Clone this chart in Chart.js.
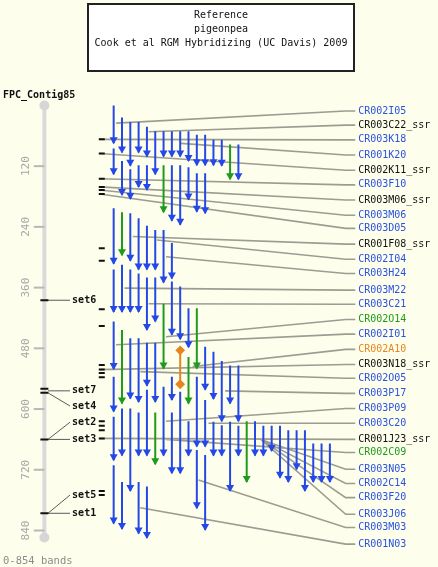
<!DOCTYPE html>
<html>
<head>
<title>FPC_Contig85 - pigeonpea</title>
<script src="https://cdn.jsdelivr.net/npm/chart.js"></script>
<style>
    html, body { margin: 0; padding: 0; background: #fefeec; }
    #wrap { width: 438px; height: 567px; }
</style>
</head>
<body>
<div id="wrap"><canvas id="map" width="438" height="567"></canvas></div>
<script>
// contig runs 0-854 bands
const bandCount = 854;
const tickValues = [120, 240, 360, 480, 600, 720, 840];

// clone labels on the right, top to bottom
const labelNames = ['CR002I05', 'CR003C22_ssr', 'CR003K18', 'CR001K20', 'CR002K11_ssr', 'CR003F10',
    'CR003M06_ssr', 'CR003M06', 'CR003D05', 'CR001F08_ssr', 'CR002I04', 'CR003H24', 'CR003M22',
    'CR003C21', 'CR002O14', 'CR002I01', 'CR002A10', 'CR003N18_ssr', 'CR002O05', 'CR003P17',
    'CR003P09', 'CR003C20', 'CR001J23_ssr', 'CR002C09', 'CR003N05', 'CR002C14', 'CR003F20',
    'CR003J06', 'CR003M03', 'CR001N03'];
const labelKinds = ['clone', 'ssr', 'clone', 'clone', 'ssr', 'clone', 'ssr', 'clone', 'clone', 'ssr',
    'clone', 'clone', 'clone', 'clone', 'green', 'clone', 'orange', 'ssr', 'clone', 'clone',
    'clone', 'clone', 'ssr', 'green', 'clone', 'clone', 'clone', 'clone', 'clone', 'clone'];
const labelBands = [11, 39, 68, 98, 128, 157, 187, 217, 243, 274, 304, 332, 365, 393, 423, 452, 482,
    512, 539, 569, 599, 628, 660, 686, 719, 747, 775, 808, 834, 867];
// where each label's line starts on the map (lane, band)
const linkLanes = [0.3, 4.2, -1.7, 8.1, -1.7, -1.7, -1.7, -1.7, -1.7, 2.3, 5.2, 6.3, 1.3, 4.2, 6.3,
    0.3, 9.5, -1.7, 3.2, 13.4, 6.3, 11.4, -1.7, 6.3, 17.7, 17.7, 17.7, 17.7, 10.2, 3.2];
const linkBands = [35, 52, 67, 75, 95, 145, 161, 167, 175, 259, 266, 299, 361, 392, 457, 473, 516,
    522, 526, 564, 624, 628, 658, 660, 660, 660, 660, 660, 740, 795];

// clone arrows: [lane, start band, end band]
const blueArrows = [
    [0, 0, 75], [1, 24, 93], [2, 33, 119], [3, 33, 93], [4, 42, 101], [5, 51, 136], [6, 51, 101],
    [7, 51, 101], [8, 51, 101], [9, 51, 110], [10, 58, 118], [11, 58, 118], [12, 68, 118],
    [13, 68, 119], [15, 77, 146],
    [0, 85, 136], [1, 110, 177], [2, 126, 185], [3, 118, 161], [4, 118, 167], [7, 118, 228],
    [8, 118, 236], [9, 122, 186], [10, 134, 210], [11, 134, 213],
    [0, 203, 313], [2, 213, 307], [3, 223, 324], [4, 238, 324], [5, 246, 324], [6, 246, 350],
    [7, 272, 342],
    [0, 324, 408], [1, 315, 408], [2, 324, 408], [3, 332, 408], [4, 340, 444], [5, 340, 427],
    [7, 348, 453], [8, 358, 462], [9, 401, 478],
    [0, 427, 521], [2, 460, 579], [3, 460, 586], [4, 469, 554], [5, 469, 586], [7, 536, 582],
    [11, 477, 562], [12, 487, 580], [13, 505, 624], [14, 514, 589], [15, 514, 624],
    [0, 536, 605], [0, 615, 701], [0, 711, 826], [1, 599, 692], [1, 744, 837], [2, 599, 762],
    [3, 607, 692], [3, 744, 846], [4, 562, 692], [4, 753, 855], [6, 556, 692], [7, 607, 727],
    [8, 566, 727], [9, 624, 692], [10, 536, 674], [10, 681, 796], [11, 582, 674], [11, 691, 839],
    [12, 625, 692], [13, 632, 692], [14, 625, 762], [15, 633, 692], [17, 624, 692], [18, 633, 692],
    [19, 633, 683], [20, 633, 736], [21, 642, 744], [22, 642, 719], [23, 642, 762], [24, 668, 744],
    [25, 668, 744], [26, 668, 744]
];
const greenArrows = [
    [14, 77, 146], [6, 118, 211], [1, 211, 296], [6, 392, 520], [10, 401, 520], [1, 444, 589],
    [9, 497, 589], [5, 607, 709], [16, 624, 744]
];
const orangeArrows = [[8, 484, 551]];

// little band dashes left of the clones
const bandMarks = [67, 95, 145, 161, 167, 175, 282, 307, 403, 436, 513, 522, 529, 537, 624, 633,
    642, 658, 762, 770];

// sets on the contig axis
const setNames = ['set6', 'set7', 'set4', 'set2', 'set3', 'set5', 'set1'];
const setLabelBands = [385, 564, 594, 626, 660, 770, 806];
const setAxisBands = [385, 564, 568, 660, 660, 806, 806];
const axisMarks = [385, 560, 568, 660, 806];

// layout, in lane units
const AXIS_LANE = -8.33;
const TICK_LANE = -9.61;
const TICK_TEXT_LANE = -10.5;
const DASH_LANE = -1.43;
const SET_FROM_LANE = -7.9;
const SET_TO_LANE = -5.25;
const SET_TEXT_LANE = -5.0;
const KNEE_LANE = 27.9;
const LINK_END_LANE = 29.05;
const LABEL_LANE = 29.4;

const BLUE = '#2448e8';
const GREEN = '#1e9a1e';
const ORANGE = '#e8841e';
const kindColor = { clone: '#2a52e0', ssr: '#111111', green: '#1e9a1e', orange: '#e8841e' };
const MONO = '"DejaVu Sans Mono", "Liberation Mono", monospace';

function arrowPoints(list) {
    const pts = [];
    list.forEach(([lane, a, b]) => {
        pts.push({ x: lane, y: a });
        pts.push({ x: lane, y: b, head: true });
        pts.push({ x: lane, y: null });
    });
    return pts;
}

const linkPoints = [];
labelBands.forEach((b, i) => {
    linkPoints.push({ x: linkLanes[i], y: linkBands[i] });
    linkPoints.push({ x: KNEE_LANE, y: b });
    linkPoints.push({ x: LINK_END_LANE, y: b });
    linkPoints.push({ x: LINK_END_LANE, y: null });
});

const setPoints = [];
setNames.forEach((s, i) => {
    setPoints.push({ x: SET_FROM_LANE, y: setAxisBands[i] });
    setPoints.push({ x: SET_TO_LANE, y: setLabelBands[i] });
    setPoints.push({ x: SET_TO_LANE, y: null });
});

// arrow heads drawn with the tip on the end point
const arrowHeads = {
    id: 'arrowHeads',
    afterDatasetsDraw(chart) {
        const ctx = chart.ctx;
        chart.data.datasets.forEach((ds, i) => {
            if (!ds.heads) return;
            const meta = chart.getDatasetMeta(i);
            ctx.save();
            ctx.fillStyle = ds.borderColor;
            meta.data.forEach((pt, j) => {
                if (!ds.data[j].head) return;
                ctx.beginPath();
                ctx.moveTo(pt.x, pt.y + 1);
                ctx.lineTo(pt.x - 4, pt.y - 6);
                ctx.lineTo(pt.x + 4, pt.y - 6);
                ctx.closePath();
                ctx.fill();
            });
            ctx.restore();
        });
    }
};

const mapDecor = {
    id: 'mapDecor',
    beforeDatasetsDraw(chart) {
        const { ctx, scales: { x, y } } = chart;
        const ax = x.getPixelForValue(AXIS_LANE);
        const top = y.getPixelForValue(0);
        const bottom = y.getPixelForValue(bandCount);
        ctx.save();
        ctx.strokeStyle = '#dadada';
        ctx.lineWidth = 4;
        ctx.beginPath();
        ctx.moveTo(ax, top);
        ctx.lineTo(ax, bottom);
        ctx.stroke();
        ctx.fillStyle = '#d6d6d6';
        [top, bottom].forEach(py => {
            ctx.beginPath();
            ctx.arc(ax, py, 5, 0, Math.PI * 2);
            ctx.fill();
        });
        ctx.strokeStyle = '#b8b8b8';
        ctx.lineWidth = 2;
        ctx.fillStyle = '#a8a8a8';
        ctx.font = '11px ' + MONO;
        ctx.textAlign = 'center';
        ctx.textBaseline = 'middle';
        tickValues.forEach(v => {
            const py = y.getPixelForValue(v);
            ctx.beginPath();
            ctx.moveTo(x.getPixelForValue(TICK_LANE), py);
            ctx.lineTo(ax, py);
            ctx.stroke();
            ctx.save();
            ctx.translate(x.getPixelForValue(TICK_TEXT_LANE), py);
            ctx.rotate(-Math.PI / 2);
            ctx.fillText(String(v), 0, 0);
            ctx.restore();
        });
        ctx.restore();
    },
    afterDraw(chart) {
        const { ctx, scales: { x, y } } = chart;
        ctx.save();
        ctx.textBaseline = 'middle';
        // clone names
        ctx.font = '10px ' + MONO;
        ctx.textAlign = 'left';
        const lx = x.getPixelForValue(LABEL_LANE);
        labelNames.forEach((name, i) => {
            ctx.fillStyle = kindColor[labelKinds[i]];
            ctx.fillText(name, lx, y.getPixelForValue(labelBands[i]));
        });
        // set names
        ctx.font = 'bold 10px ' + MONO;
        ctx.fillStyle = '#111';
        setNames.forEach((s, i) => {
            ctx.fillText(s, x.getPixelForValue(SET_TEXT_LANE), y.getPixelForValue(setLabelBands[i]));
        });
        // headings
        ctx.font = 'bold 10px ' + MONO;
        ctx.fillText('FPC_Contig85', 3, 95);
        ctx.font = '10.5px ' + MONO;
        ctx.fillStyle = '#8c8c8c';
        ctx.fillText('0-854 bands', 3, 561);
        // title box
        ctx.fillStyle = '#ffffff';
        ctx.fillRect(88, 4, 266, 67);
        ctx.strokeStyle = '#222';
        ctx.lineWidth = 2;
        ctx.strokeRect(88, 4, 266, 67);
        ctx.fillStyle = '#111';
        ctx.font = '10px ' + MONO;
        ctx.textAlign = 'center';
        ctx.fillText('Reference', 221, 15);
        ctx.fillText('pigeonpea', 221, 29.5);
        ctx.fillText('Cook et al RGM Hybridizing (UC Davis) 2009', 221, 43);
        ctx.restore();
    }
};

new Chart(document.getElementById('map'), {
    type: 'scatter',
    data: {
        datasets: [
            {
                label: 'band marks', data: bandMarks.map(b => ({ x: DASH_LANE, y: b })),
                showLine: false, pointStyle: 'line', pointRadius: 3, pointBorderWidth: 2,
                pointBorderColor: '#111', order: 0
            },
            {
                label: 'set marks', data: axisMarks.map(b => ({ x: AXIS_LANE, y: b })),
                showLine: false, pointStyle: 'line', pointRadius: 4, pointBorderWidth: 2,
                pointBorderColor: '#111', order: 0
            },
            {
                label: 'orange', data: arrowPoints(orangeArrows), showLine: true,
                borderColor: ORANGE, borderWidth: 2, pointStyle: 'rectRot',
                pointRadius: ctx => (ctx.raw && ctx.raw.y !== null ? 3.5 : 0),
                pointBackgroundColor: ORANGE, pointBorderColor: ORANGE, order: 1
            },
            {
                label: 'green', data: arrowPoints(greenArrows), showLine: true, heads: true,
                borderColor: GREEN, borderWidth: 2, pointRadius: 0, order: 1
            },
            {
                label: 'blue', data: arrowPoints(blueArrows), showLine: true, heads: true,
                borderColor: BLUE, borderWidth: 2, pointRadius: 0, order: 1
            },
            {
                label: 'sets', data: setPoints, showLine: true,
                borderColor: '#5a5a5a', borderWidth: 1, pointRadius: 0, order: 2
            },
            {
                label: 'links', data: linkPoints, showLine: true,
                borderColor: '#9c9c92', borderWidth: 1.6, pointRadius: 0, order: 3
            }
        ]
    },
    options: {
        responsive: false,
        animation: false,
        devicePixelRatio: 1,
        events: [],
        layout: { padding: { top: 95.3, bottom: 11.2, left: 0, right: 0 } },
        scales: {
            x: { type: 'linear', min: -12.947, max: 38.281, display: false },
            y: { type: 'linear', min: -20, max: 890, reverse: true, display: false }
        },
        plugins: { legend: { display: false }, tooltip: { enabled: false } }
    },
    plugins: [mapDecor, arrowHeads]
});
</script>
</body>
</html>
